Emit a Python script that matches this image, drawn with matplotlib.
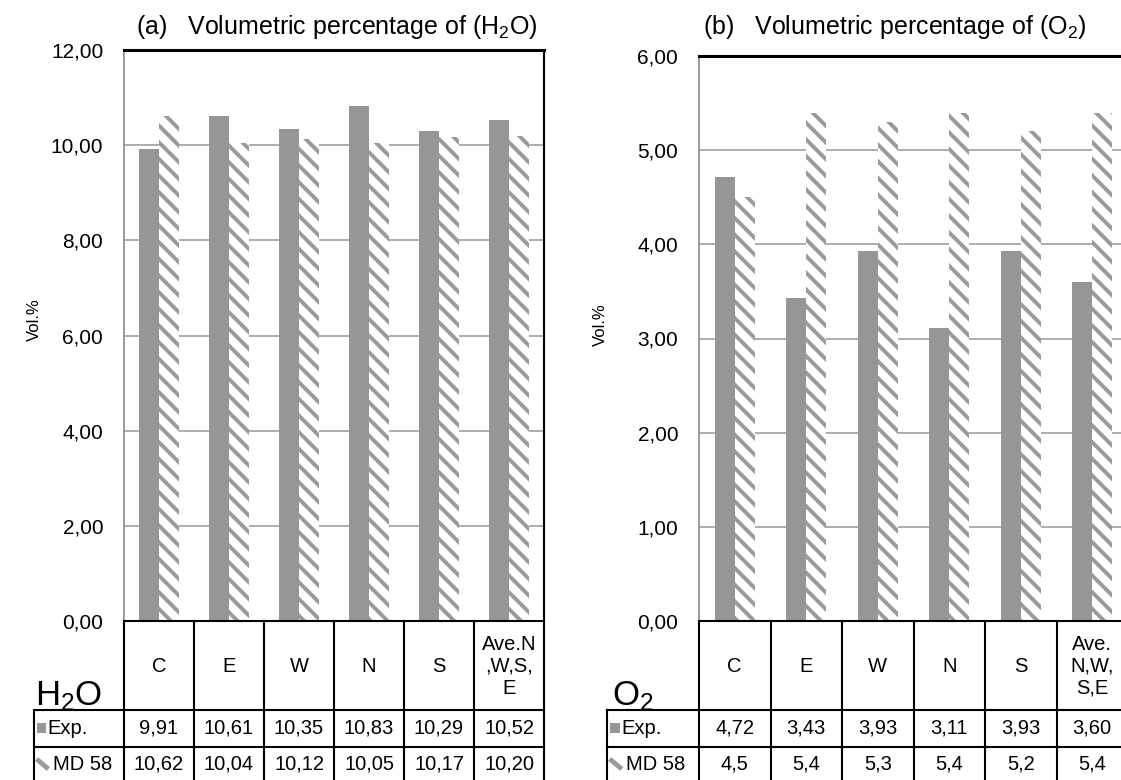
import numpy as np
import matplotlib
matplotlib.use("Agg")
import matplotlib.pyplot as plt
from matplotlib.patches import Rectangle
from matplotlib.lines import Line2D
from matplotlib.transforms import blended_transform_factory
from matplotlib.ticker import FuncFormatter, MultipleLocator

plt.rcParams["font.family"] = ["Liberation Sans", "DejaVu Sans"]
plt.rcParams["mathtext.default"] = "regular"
plt.rcParams["hatch.linewidth"] = 2.8

# ---- data -------------------------------------------------------------
series_names = ["Exp.", "MD 58"]

h2o_categories = ["C", "E", "W", "N", "S", "Ave.N\n,W,S,\nE"]
h2o_exp = [9.91, 10.61, 10.35, 10.83, 10.29, 10.52]
h2o_md58 = [10.62, 10.04, 10.12, 10.05, 10.17, 10.20]

o2_categories = ["C", "E", "W", "N", "S", "Ave.\nN,W,\nS,E"]
o2_exp = [4.72, 3.43, 3.93, 3.11, 3.93, 3.60]
o2_md58 = [4.5, 5.4, 5.3, 5.4, 5.2, 5.4]

# ---- layout -----------------------------------------------------------
W_PX, H_PX = 1121, 780
fig = plt.figure(figsize=(W_PX / 100, H_PX / 100), dpi=100)

EXP_GRAY = "#969696"
HATCH_GRAY = "#9a9a9a"
GRID_GRAY = "#a0a0a0"
AXIS_GRAY = "#8c8c8c"


def comma(v, nd):
    return f"{v:.{nd}f}".replace(".", ",")


def fy(y_px):
    return 1 - y_px / H_PX


def panel(box, cats, exp_vals, md_vals, exp_dec, md_dec, ymax, ystep,
          title, title_x, species, species_x, ylabel_xy, right_spine):
    l, t, r, b = box
    ax = fig.add_axes([l / W_PX, fy(b), (r - l) / W_PX, (b - t) / H_PX])
    n = len(cats)
    x = np.arange(n)
    w = 0.28
    ax.bar(x - w / 2, exp_vals, w, color=EXP_GRAY, linewidth=0, zorder=2)
    ax.bar(x + w / 2, md_vals, w, facecolor="white", edgecolor=HATCH_GRAY,
           hatch="\\\\", linewidth=0, zorder=2)

    ax.set_xlim(-0.5, n - 0.5)
    ax.set_ylim(0, ymax)
    ax.yaxis.set_major_locator(MultipleLocator(ystep))
    ax.yaxis.set_major_formatter(FuncFormatter(lambda v, p: comma(v, 2)))
    ax.set_xticks([])
    ax.tick_params(axis="y", length=0, pad=15, labelsize=15)
    ax.yaxis.grid(True, color=GRID_GRAY, linewidth=1.2)
    ax.set_axisbelow(True)
    ax.spines["top"].set(color="black", linewidth=2.2)
    ax.spines["left"].set(color=AXIS_GRAY, linewidth=1.2)
    ax.spines["right"].set(color="black", linewidth=1.5, visible=right_spine)
    ax.spines["bottom"].set(color="black", linewidth=1.5)

    # data table under the plot
    tr = blended_transform_factory(ax.transData, fig.transFigure)
    cell_left = -1.78
    y_head, y_exp, y_md, y_end = 621, 710, 747, 784
    lw = 1.5

    def seg(xs, ys_px):
        ax.add_line(Line2D(xs, [fy(v) for v in ys_px], transform=tr,
                           color="black", lw=lw, clip_on=False))

    seg([cell_left, n - 0.5], [y_exp, y_exp])
    seg([cell_left, n - 0.5], [y_md, y_md])
    for k in range(n + 1):
        seg([k - 0.5, k - 0.5], [y_head, y_end])
    seg([cell_left, cell_left], [y_exp, y_end])

    fs = 14.5
    for i, c in enumerate(cats):
        ax.text(i, fy(666), c, transform=tr, ha="center",
                va="center", fontsize=fs, linespacing=1.2)
        ax.text(i, fy((y_exp + y_md) / 2), comma(exp_vals[i], exp_dec),
                transform=tr, ha="center", va="center", fontsize=fs)
        ax.text(i, fy((y_md + y_end) / 2 - 1), comma(md_vals[i], md_dec),
                transform=tr, ha="center", va="center", fontsize=fs)

    # row keys
    ax.add_patch(Rectangle((-1.74, fy(733)), 0.13, 10 / H_PX, transform=tr,
                           facecolor=EXP_GRAY, edgecolor="none",
                           clip_on=False))
    ax.text(-1.59, fy((y_exp + y_md) / 2), series_names[0], transform=tr,
            ha="left", va="center", fontsize=fs)
    ax.add_line(Line2D([-1.75, -1.58], [fy(759), fy(769)], transform=tr,
                       color=HATCH_GRAY, lw=3.5, solid_capstyle="butt",
                       clip_on=False))
    ax.text(-1.52, fy((y_md + y_end) / 2 - 1), series_names[1], transform=tr,
            ha="left", va="center", fontsize=fs)

    fig.text(title_x / W_PX, fy(34), title, ha="left", va="baseline",
             fontsize=18)
    fig.text(species_x / W_PX, fy(705), species, ha="left", va="baseline",
             fontsize=25)
    fig.text(ylabel_xy[0] / W_PX, fy(ylabel_xy[1]), "Vol.%", rotation=90,
             ha="center", va="center", fontsize=12)
    return ax


panel((124, 50, 544, 621), h2o_categories, h2o_exp, h2o_md58, 2, 2, 12, 2,
      "(a)   Volumetric percentage of (H$_2$O)", 136, "H$_2$O", 35,
      (34, 320), True)
panel((699, 56, 1128, 621), o2_categories, o2_exp, o2_md58, 2, 1, 6, 1,
      "(b)   Volumetric percentage of (O$_2$)", 703, "O$_2$", 612,
      (600, 325), False)

fig.savefig("out.png", dpi=100)
